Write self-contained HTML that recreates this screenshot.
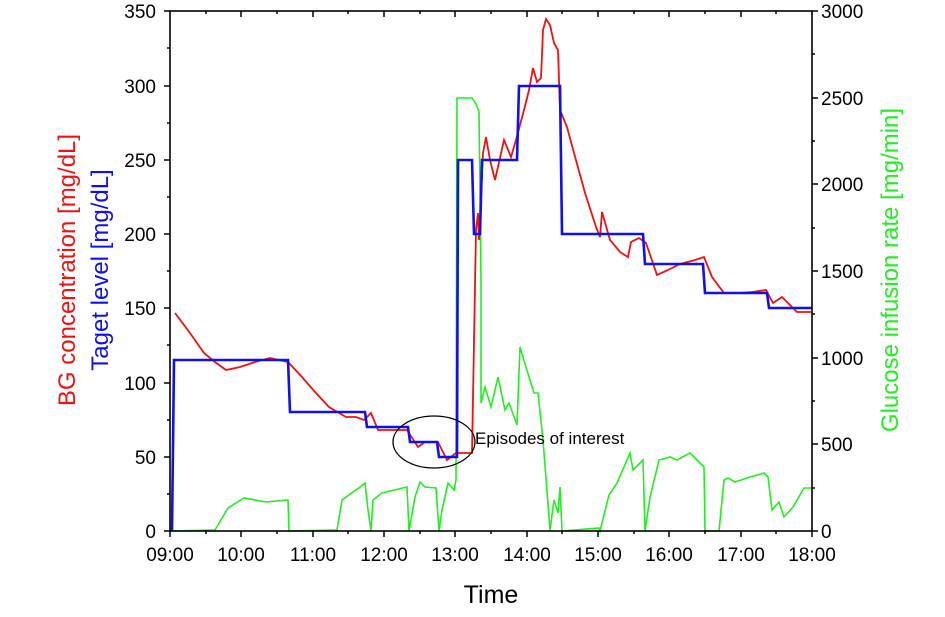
<!DOCTYPE html>
<html><head><style>body{margin:0;background:#fff}svg{display:block;font-family:"Liberation Sans",Arial,sans-serif}</style></head><body>
<svg width="945" height="617" viewBox="0 0 945 617">
<rect width="945" height="617" fill="#fff"/>
<!-- green -->
<polyline fill="none" stroke="#22ee22" stroke-width="1.6" points="170,531 215,530 228,508 244,498 266,502 288,500 289,531 337,530 342,500 360,487 365,483 368,510 371,531 373,500 382,493 407,487 409,531 415,497 420,482 425,487 436,488 439,531 442,510 448,483 454,490 456,480 457,98 472,98 476,104 479,112 481,280 481,403 485,387 491,407 498,377 505,410 509,403 517,425 520,347 529,377 534,393 538,393 543,440 550,530 554,500 558,513 560,487 562,531 599,528 600,531 609,495 617,483 630,453 633,470 643,460 645,531 650,497 659,460 670,457 677,460 690,453 704,467 705,531 719,531 724,480 728,478 735,482 750,477 764,473 768,477 772,510 779,502 784,517 793,507 804,488 811,488"/>
<!-- red -->
<polyline fill="none" stroke="#ee1111" stroke-width="1.8" points="175,313 190,333 204,353 215,362 226,370 240,367 255,362 270,358 288,362 302,377 315,392 329,407 346,417 356,417 364,420 371,413 378,430 395,430 407,430 418,447 425,442 438,442 447,460 456,453 472,453 476,230 478,213 479,240 483,153 486,137 490,160 495,180 504,140 511,157 516,140 524,110 529,90 533,68 537,82 541,78 543,30 546,19 550,25 554,43 558,50 560,110 567,127 574,153 585,193 596,227 600,237 602,212 610,240 620,252 628,257 631,242 639,238 646,243 657,275 668,270 680,264 695,260 704,257 712,277 724,293 739,293 752,292 766,290 773,303 782,297 797,312 811,312"/>
<!-- blue -->
<polyline fill="none" stroke="#1010ee" stroke-width="2.6" points="172,531 174,360 288,360 290,412 365,412 367,427 408,427 410,442 437,442 439,457 457,457 458,160 472,160 474,234 480,234 482,160 517,160 519,86 560,86 562,234 643,234 645,264 703,264 705,293 767,293 769,308 812,308"/>
<ellipse cx="434" cy="442" rx="41" ry="26" fill="none" stroke="#000" stroke-width="1.3"/>
<text x="475" y="444" font-size="17">Episodes of interest</text>
<!-- frame -->
<rect x="170" y="11" width="642" height="520" fill="none" stroke="#000" stroke-width="1.6"/>
<g stroke="#000" stroke-width="1.5">
<path d="M170,531h-6M170,457h-6M170,383h-6M170,308h-6M170,234h-6M170,160h-6M170,86h-6M170,11h-6"/>
<path d="M170,494h-3M170,420h-3M170,345h-3M170,271h-3M170,197h-3M170,123h-3M170,48h-3"/>
<path d="M812,531h6M812,444h6M812,358h6M812,271h6M812,184h6M812,98h6M812,11h6"/>
<path d="M812,488h3M812,401h3M812,314h3M812,228h3M812,141h3M812,54h3"/>
<path d="M170,531v6M241,531v6M313,531v6M384,531v6M455,531v6M527,531v6M598,531v6M669,531v6M741,531v6M812,531v6"/>
<path d="M206,531v3M277,531v3M348,531v3M420,531v3M491,531v3M562,531v3M634,531v3M705,531v3M776,531v3"/>
<path d="M241,11v6M313,11v6M384,11v6M455,11v6M527,11v6M598,11v6M669,11v6M741,11v6"/>
<path d="M206,11v3M277,11v3M348,11v3M420,11v3M491,11v3M562,11v3M634,11v3M705,11v3M776,11v3"/>
</g>
<g font-size="19" text-anchor="end">
<text x="156" y="538">0</text><text x="156" y="464">50</text><text x="156" y="390">100</text><text x="156" y="315">150</text><text x="156" y="241">200</text><text x="156" y="167">250</text><text x="156" y="93">300</text><text x="156" y="18">350</text>
</g>
<g font-size="19">
<text x="821" y="538">0</text><text x="821" y="451">500</text><text x="821" y="365">1000</text><text x="821" y="278">1500</text><text x="821" y="191">2000</text><text x="821" y="105">2500</text><text x="821" y="18">3000</text>
</g>
<g font-size="19" text-anchor="middle">
<text x="170" y="561">09:00</text><text x="241" y="561">10:00</text><text x="313" y="561">11:00</text><text x="384" y="561">12:00</text><text x="455" y="561">13:00</text><text x="527" y="561">14:00</text><text x="598" y="561">15:00</text><text x="669" y="561">16:00</text><text x="741" y="561">17:00</text><text x="812" y="561">18:00</text>
</g>
<text x="491" y="603" font-size="25" text-anchor="middle">Time</text>
<text transform="translate(75,270) rotate(-90)" font-size="24" fill="#ee1111" text-anchor="middle">BG concentration [mg/dL]</text>
<text transform="translate(108,270) rotate(-90)" font-size="24" fill="#1010ee" text-anchor="middle">Taget level [mg/dL]</text>
<text transform="translate(898,270) rotate(-90)" font-size="24" fill="#22ee22" text-anchor="middle">Glucose infusion rate [mg/min]</text>
</svg>
</body></html>
